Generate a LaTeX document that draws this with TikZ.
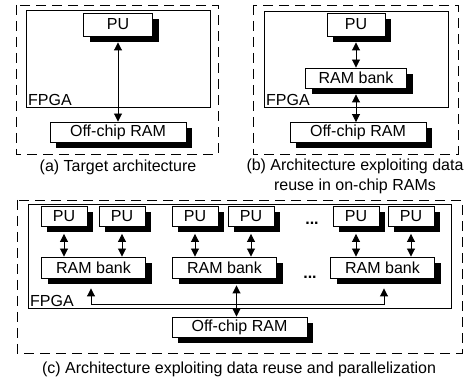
\documentclass[tikz,border=0pt]{standalone}
\usepackage{fontspec}
\setmainfont{Liberation Sans}
\usetikzlibrary{arrows.meta,positioning,calc}

\begin{document}
\begin{tikzpicture}[
  x=1pt,y=-1pt,
  font=\fontsize{16}{20.5}\selectfont,
  unit/.style={rectangle,draw=black,fill=white,line width=0.9pt,inner sep=0pt},
  pu/.style={unit,minimum width=46pt,minimum height=20pt},
  rambank/.style={unit,minimum width=104pt,minimum height=21pt},
  offchip/.style={unit,minimum width=136pt,minimum height=20pt},
  shadowline/.style={draw=black,line width=6pt,line cap=butt,line join=miter},
  chip/.style={draw=black,line width=0.9pt},
  frame/.style={draw=black,line width=0.9pt,dash pattern=on 10pt off 6pt},
  chiplabel/.style={anchor=south west,inner sep=1pt},
  caption/.style={align=center,inner sep=0pt},
  biarrow/.style={{Triangle[length=8pt,width=8pt]}-{Triangle[length=8pt,width=8pt]},line width=0.9pt},
  uparrow/.style={-{Triangle[length=8pt,width=8pt]},line width=0.9pt}
]
\useasboundingbox (0,0) rectangle (472,379);

% drop shadows of the boxes (centre x / centre y / width / height)
\foreach \cx/\cy/\w/\h in {118/24.5/69/23, 118/132/136/20,
    356/24.5/58/23, 356/78/101/20, 358/132.5/136/20,
    64/216.5/46/20, 122/216.5/46/20, 195/216.5/46/20, 251/216.5/46/20,
    356/216.5/46/20, 411/216.5/46/20,
    93.5/267.5/104/21, 224.5/267.5/104/21, 382.5/267.5/104/21,
    239.5/327/135/20} {
  \draw[shadowline] ({\cx-\w/2+6},{\cy+\h/2+3}) -- ({\cx+\w/2+3},{\cy+\h/2+3}) -- ({\cx+\w/2+3},{\cy-\h/2+6});
}

% ===== (a) TARGET ARCHITECTURE =====
\draw[frame] (16,5) rectangle (218,154);
\draw[chip] (26,10) rectangle (210,107);
\node[chiplabel] (fpgaA) at (27,107) {FPGA};

\node[pu,minimum width=69pt,minimum height=23pt] (puA) at (118,24.5) {PU};
\node[offchip] (offA) at (118,132) {Off-chip RAM};
\draw[biarrow] ([yshift=-6pt]puA.south) -- (offA.north);

\node[caption] (capA) at (118,167) {(a) Target architecture};

% ===== (b) DATA REUSE IN ON-CHIP RAMS =====
\draw[frame] (253,5) rectangle (458,154);
\draw[chip] (264,11) rectangle (448,107);
\node[chiplabel] (fpgaB) at (265,107) {FPGA};

\node[pu,minimum width=58pt,minimum height=23pt] (puB) at (356,24.5) {PU};
\node[rambank,minimum width=101pt,minimum height=20pt] (ramB) at (356,78) {RAM bank};
\node[offchip] (offB) at (358,132.5) {Off-chip RAM};
\draw[biarrow] ([yshift=-6pt]puB.south) -- (ramB.north);
\draw[biarrow] ([yshift=-6pt]ramB.south) -- (ramB.south |- offB.north);

\node[caption] (capB) at (355,176.5) {(b) Architecture exploiting data\\reuse in on-chip RAMs};

% ===== (c) DATA REUSE AND PARALLELIZATION =====
\draw[frame] (17,200) rectangle (462,353);
\draw[chip] (28,204) rectangle (451,308);
\node[chiplabel] (fpgaC) at (29,308) {FPGA};

% processing units
\node[pu] (pu1) at (64,216.5) {PU};
\node[pu] (pu2) at (122,216.5) {PU};
\node[pu] (pu3) at (195,216.5) {PU};
\node[pu] (pu4) at (251,216.5) {PU};
\node[pu] (pu5) at (356,216.5) {PU};
\node[pu] (pu6) at (411,216.5) {PU};
\node[anchor=base,inner sep=0pt,font=\fontsize{16}{20}\selectfont\bfseries] (dotsPU) at (312,225) {...};

% on-chip RAM banks
\node[rambank] (ram1) at (93.5,267.5) {RAM bank};
\node[rambank] (ram2) at (224.5,267.5) {RAM bank};
\node[rambank] (ram3) at (382.5,267.5) {RAM bank};
\node[anchor=base,inner sep=0pt,font=\fontsize{16}{20}\selectfont\bfseries] (dotsRAM) at (310,279) {...};

\foreach \p/\r in {pu1/ram1,pu2/ram1,pu3/ram2,pu4/ram2,pu5/ram3,pu6/ram3} {
  \draw[biarrow] ([yshift=-7pt]\p.south) -- (\p.south |- \r.north);
}

\node[offchip,minimum width=135pt] (offC) at (239.5,327) {Off-chip RAM};
\coordinate (bus) at (236,304);

\draw[biarrow] ([xshift=12pt,yshift=-7pt]ram2.south) -- ([xshift=12pt]ram2.south |- offC.north);
\draw[uparrow] (bus) -| ([xshift=-2.5pt,yshift=-10pt]ram1.south);
\draw[uparrow] (bus) -| ([xshift=1.5pt,yshift=-10pt]ram3.south);

\node[caption] (capC) at (239,369) {(c) Architecture exploiting data reuse and parallelization};

\end{tikzpicture}
\end{document}
